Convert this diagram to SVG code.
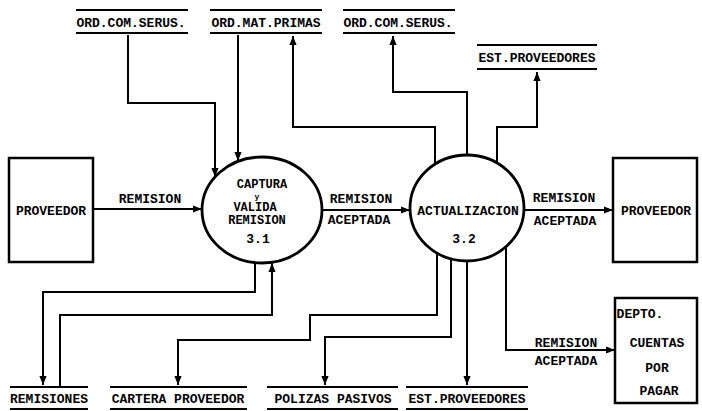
<svg xmlns="http://www.w3.org/2000/svg" width="702" height="411" viewBox="0 0 702 411">
<style>
text{font-family:"Liberation Mono","DejaVu Sans Mono",monospace;font-weight:bold;font-size:13px;fill:#000;text-anchor:middle}
.sm{font-size:8px}
.c1{font-size:12px}
.ln{stroke:#000;stroke-width:2;fill:none}
.fl{stroke:#000;stroke-width:2;fill:none;marker-end:url(#ah)}
.ent{stroke:#000;stroke-width:2.5;fill:#fff}
.proc{stroke:#000;stroke-width:2.8;fill:#fff}
</style>
<defs>
<marker id="ah" viewBox="0 0 10 10" refX="10" refY="5" markerWidth="9" markerHeight="9" markerUnits="userSpaceOnUse" orient="auto">
<path d="M0,1 L10,5 L0,9 z" fill="#000"/>
</marker>
</defs>
<rect width="702" height="411" fill="#fff"/>

<g id="connectors">
<path class="fl" d="M128,35 V103 H215 V177"/>
<path class="fl" d="M238,35 V161"/>
<path class="fl" d="M435,164 V127 H293 V36"/>
<path class="fl" d="M467,155 V92 H393 V36"/>
<path class="fl" d="M497,163 V127 H537 V72"/>
<path class="fl" d="M93,209 H202"/>
<path class="fl" d="M322,210 H410"/>
<path class="fl" d="M524,210 H613"/>
<path class="fl" d="M255,263 V292 H43 V385"/>
<path class="fl" d="M60,386 V315 H272 V263"/>
<path class="fl" d="M437,253 V315 H310 V340 H178 V385"/>
<path class="fl" d="M451,259 V337 H325 V385"/>
<path class="fl" d="M467,261 V385"/>
<path class="fl" d="M506,247 V350 H615"/>
<text x="150" y="203">REMISION</text>
<text x="361" y="203">REMISION</text>
<text x="359" y="224">ACEPTADA</text>
<text x="564" y="202">REMISION</text>
<text x="565" y="225">ACEPTADA</text>
<text x="566" y="347">REMISION</text>
<text x="566" y="365">ACEPTADA</text>
</g>

<g id="store-ord-com-servs-1">
<line class="ln" x1="76" y1="10" x2="188" y2="10"/>
<line class="ln" x1="76" y1="33" x2="188" y2="33"/>
<text x="131" y="26.5">ORD.COM.SERUS.</text>
</g>
<g id="store-ord-mat-primas">
<line class="ln" x1="210" y1="10" x2="322" y2="10"/>
<line class="ln" x1="210" y1="33" x2="322" y2="33"/>
<text x="266" y="26.5">ORD.MAT.PRIMAS</text>
</g>
<g id="store-ord-com-servs-2">
<line class="ln" x1="343" y1="10" x2="455" y2="10"/>
<line class="ln" x1="343" y1="33" x2="455" y2="33"/>
<text x="398" y="26.5">ORD.COM.SERUS.</text>
</g>
<g id="store-est-proveedores-top">
<line class="ln" x1="477" y1="45" x2="597" y2="45"/>
<line class="ln" x1="477" y1="69" x2="597" y2="69"/>
<text x="537" y="61.5">EST.PROVEEDORES</text>
</g>

<g id="ent-proveedor-left">
<rect class="ent" x="9" y="158" width="84" height="104"/>
<text x="51" y="214.5">PROVEEDOR</text>
</g>

<g id="proc-3-1">
<ellipse class="proc" cx="262" cy="210" rx="60" ry="53"/>
<text class="c1" x="262" y="188">CAPTURA</text>
<text class="sm" x="257" y="198.5">y</text>
<text class="c1" x="255" y="211">VALIDA</text>
<text class="c1" x="257" y="224">REMISION</text>
<text x="258" y="243">3.1</text>
</g>

<g id="proc-3-2">
<ellipse class="proc" cx="467" cy="208" rx="57" ry="53"/>
<text x="468" y="214.5">ACTUALIZACION</text>
<text x="464" y="242.5">3.2</text>
</g>

<g id="ent-proveedor-right">
<rect class="ent" x="613" y="158" width="84" height="104"/>
<text x="656" y="214.5">PROVEEDOR</text>
</g>

<g id="ent-depto">
<rect class="ent" x="615" y="298" width="82" height="105"/>
<text x="640" y="317.5">DEPTO.</text>
<text x="657" y="346.5">CUENTAS</text>
<text x="657" y="371.5">POR</text>
<text x="659" y="394.5">PAGAR</text>
</g>

<g id="store-remisiones">
<line class="ln" x1="10" y1="387" x2="88" y2="387"/>
<line class="ln" x1="10" y1="409" x2="88" y2="409"/>
<text x="49" y="402.5">REMISIONES</text>
</g>
<g id="store-cartera-proveedor">
<line class="ln" x1="110" y1="387" x2="247" y2="387"/>
<line class="ln" x1="110" y1="409" x2="247" y2="409"/>
<text x="178" y="402.5">CARTERA PROVEEDOR</text>
</g>
<g id="store-polizas-pasivos">
<line class="ln" x1="267" y1="387" x2="398" y2="387"/>
<line class="ln" x1="267" y1="409" x2="398" y2="409"/>
<text x="333" y="402.5">POLIZAS PASIVOS</text>
</g>
<g id="store-est-proveedores-bottom">
<line class="ln" x1="406" y1="387" x2="528" y2="387"/>
<line class="ln" x1="406" y1="409" x2="528" y2="409"/>
<text x="467" y="402.5">EST.PROVEEDORES</text>
</g>
</svg>
